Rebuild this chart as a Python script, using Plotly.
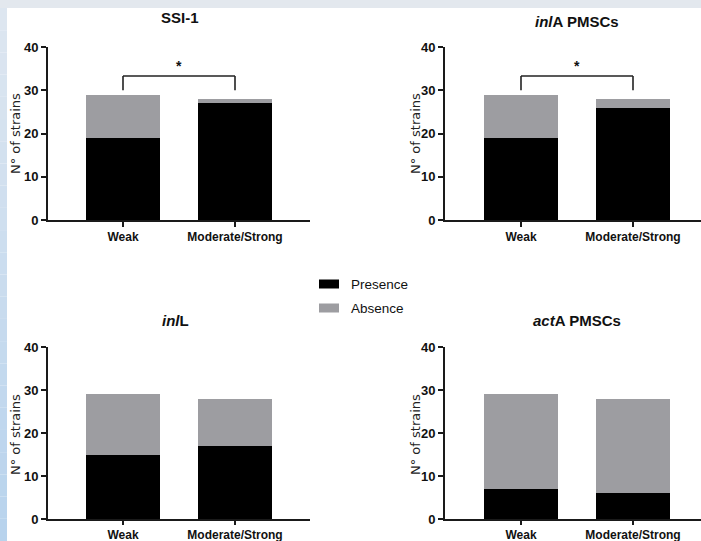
import plotly.graph_objects as go
from plotly.subplots import make_subplots

# ---------------- data ----------------
categories = ["Weak", "Moderate/Strong"]
series_names = ["Presence", "Absence"]

ssi1_presence = [19, 27]
ssi1_absence = [10, 1]

inla_presence = [19, 26]
inla_absence = [10, 2]

inll_presence = [15, 17]
inll_absence = [14, 11]

acta_presence = [7, 6]
acta_absence = [22, 22]

panel_titles = ["<b>SSI-1</b>", "<b><i>inl</i>A PMSCs</b>",
                "<b><i>inl</i>L</b>", "<b><i>act</i>A PMSCs</b>"]
y_tick_vals = [0, 10, 20, 30, 40]
y_axis_title = "N° of strains"
significance = ["*", "*", None, None]   # bracket label per panel
bracket_top = 33.3
bracket_leg = 30

# ---------------- styling helpers ----------------
W, H = 701, 541
FONT = "Liberation Sans, Arial, sans-serif"
FONT2 = "DejaVu Sans, Verdana, sans-serif"
PRES_COLOR = "#000000"
ABS_COLOR = "#9d9da1"
AXIS_COLOR = "#1a1a1a"


def px_x(p):
    return p / W


def px_y(p):
    return 1 - p / H


# pixel geometry of panels: (x0, x1, ytop, ybottom, weak_center)
panels = [
    (48, 310, 47, 220, 123),
    (445, 701, 47, 220, 521),
    (48, 310, 347, 519, 123),
    (445, 701, 347, 519, 521),
]
title_pos = [(180, 18), (577, 22), (175, 320), (577, 320)]
ytitle_pos = [(15, 134), (415, 134), (15, 435), (415, 435)]
CAT_SPACING = 112.0

fig = make_subplots(rows=2, cols=2)

data = [
    (ssi1_presence, ssi1_absence),
    (inla_presence, inla_absence),
    (inll_presence, inll_absence),
    (acta_presence, acta_absence),
]

for i, (pres, absn) in enumerate(data):
    r, c = i // 2 + 1, i % 2 + 1
    fig.add_trace(go.Bar(x=categories, y=pres, name=series_names[0],
                         marker=dict(color=PRES_COLOR, line=dict(width=0)),
                         width=0.66, showlegend=False), row=r, col=c)
    fig.add_trace(go.Bar(x=categories, y=absn, name=series_names[1],
                         marker=dict(color=ABS_COLOR, line=dict(width=0)),
                         width=0.66, showlegend=False), row=r, col=c)

shapes = []
annotations = []

# background strips
shapes.append(dict(type="rect", xref="paper", yref="paper", x0=0, x1=1,
                   y0=px_y(8), y1=1, fillcolor="#e3e8ee", line=dict(width=0),
                   layer="below"))
nstrip = 24
c0 = (221, 230, 240)
c1 = (184, 211, 237)
for k in range(nstrip):
    t = k / (nstrip - 1)
    col = tuple(int(round(c0[j] + (c1[j] - c0[j]) * t)) for j in range(3))
    ya = 8 + (H - 8) * k / nstrip
    yb = 8 + (H - 8) * (k + 1) / nstrip
    shapes.append(dict(type="rect", xref="paper", yref="paper", x0=0, x1=px_x(7),
                       y0=px_y(yb), y1=px_y(ya),
                       fillcolor="rgb(%d,%d,%d)" % col, line=dict(width=0),
                       layer="below"))

for i, (x0, x1, yt, yb, wc) in enumerate(panels):
    idx = "" if i == 0 else str(i + 1)
    r0 = -(wc - x0) / CAT_SPACING
    r1 = r0 + (x1 - x0) / CAT_SPACING
    bottom_row = i >= 2
    fig.layout["xaxis" + idx].update(
        domain=[px_x(x0), min(px_x(x1), 1.0)], range=[r0, r1],
        showline=True, linecolor=AXIS_COLOR, linewidth=2,
        ticks="outside", ticklen=4 if bottom_row else 5, tickwidth=2, tickcolor=AXIS_COLOR,
        tickfont=dict(family=FONT, size=12, color="#111111", weight="bold"),
        showgrid=False, zeroline=False, automargin=False, fixedrange=True,
    )
    fig.layout["yaxis" + idx].update(
        domain=[px_y(yb), px_y(yt)], range=[0, 40],
        tickvals=y_tick_vals,
        showline=True, linecolor=AXIS_COLOR, linewidth=2,
        ticks="outside", ticklen=5, tickwidth=2, tickcolor=AXIS_COLOR,
        tickfont=dict(family=FONT, size=13, color="#111111", weight="bold"),
        showgrid=False, zeroline=False, automargin=False, fixedrange=True,
    )
    tx, ty = title_pos[i]
    annotations.append(dict(text=panel_titles[i], xref="paper", yref="paper",
                            x=px_x(tx), y=px_y(ty), xanchor="center", yanchor="middle",
                            showarrow=False,
                            font=dict(family=FONT, size=15, color="#111111")))
    ax, ay = ytitle_pos[i]
    annotations.append(dict(text=y_axis_title, xref="paper", yref="paper",
                            x=px_x(ax), y=px_y(ay), xanchor="center", yanchor="middle",
                            textangle=-90, showarrow=False,
                            font=dict(family=FONT2, size=13, color="#222222")))
    if significance[i]:
        xr = "x" + idx
        yr = "y" + idx
        pts = [(categories[0], bracket_leg), (categories[0], bracket_top),
               (categories[1], bracket_top), (categories[1], bracket_leg)]
        for (xa, ya_), (xb, yb_) in zip(pts[:-1], pts[1:]):
            shapes.append(dict(type="line", xref=xr, yref=yr,
                               x0=categories.index(xa), x1=categories.index(xb),
                               y0=ya_, y1=yb_,
                               line=dict(color="#222222", width=1.6)))
        annotations.append(dict(text="<b>" + significance[i] + "</b>", xref=xr, yref=yr,
                                x=0.5, y=35.6, showarrow=False,
                                xanchor="center", yanchor="middle",
                                font=dict(family=FONT, size=14, color="#111111")))

# legend drawn manually (swatches + labels)
legend_items = [(series_names[0], PRES_COLOR, 284), (series_names[1], ABS_COLOR, 308)]
for name, color, yc in legend_items:
    shapes.append(dict(type="rect", xref="paper", yref="paper",
                       x0=px_x(319), x1=px_x(339), y0=px_y(yc + 4.5), y1=px_y(yc - 4.5),
                       fillcolor=color, line=dict(width=0)))
    annotations.append(dict(text=name, xref="paper", yref="paper",
                            x=px_x(349), y=px_y(yc), xanchor="left", yanchor="middle",
                            showarrow=False,
                            font=dict(family=FONT, size=13.5, color="#111111")))

fig.update_layout(
    template="none",
    barmode="stack",
    width=W, height=H,
    margin=dict(l=0, r=0, t=0, b=0, pad=0),
    paper_bgcolor="white", plot_bgcolor="white",
    showlegend=False,
    shapes=shapes,
    annotations=annotations,
    font=dict(family=FONT),
)

fig.write_html("out.html",
               config={"displayModeBar": False},
               post_script="document.body.style.margin='0';document.body.style.overflow='hidden';")
